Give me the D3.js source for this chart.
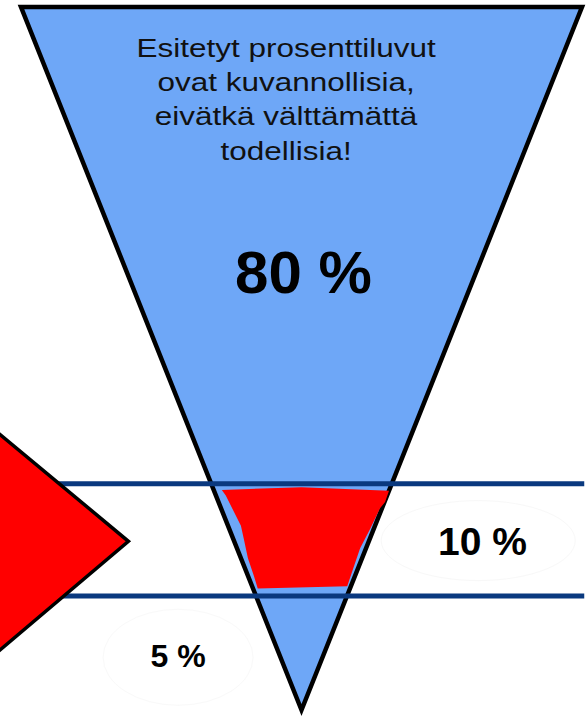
<!DOCTYPE html>
<html>
<head>
<meta charset="utf-8">
<script src="https://cdn.jsdelivr.net/npm/d3@7"></script>
<style>
  html, body { margin: 0; padding: 0; background: #fff; }
  svg { display: block; }
</style>
</head>
<body>
<div class="chart"></div>
<script>
var w = 588,
  h = 717;

// shares shown on the funnel (illustrative only)
var shareLabels = ['80 %', '10 %', '5 %'];

// note printed inside the funnel
var noteLines = ['Esitetyt prosenttiluvut', 'ovat kuvannollisia,', 'eivätkä välttämättä', 'todellisia!'];

// funnel outline: [half-width units, depth %]
var funnelCorners = [[-100, 0], [100, 0], [0, 100]];

// depth of the two filter lines
var bandLevels = [67.8, 83.8];

// hand-drawn red fill caught between the lines
var caughtFill = [
  [-28.4, 68.7], [-27.0, 69.5], [-24.1, 71.8], [-21.6, 73.8], [-20.6, 75.6],
  [-19.1, 78.4], [-17.0, 80.9], [-15.6, 82.7], [16.3, 82.4], [18.4, 79.9],
  [20.9, 77.0], [24.5, 74.2], [28.0, 71.3], [29.8, 70.4], [31.2, 68.8],
  [0, 68.3]
];

// red arrow on the left
var arrowCorners = [[-112, 59.3], [-61.7, 76.0], [-112, 93.0]];

var x = d3.scaleLinear().domain([-100, 100]).range([21, 582]);
var y = d3.scaleLinear().domain([0, 100]).range([7, 710]);

var svg = d3.select('.chart')
  .append('svg')
  .attr('width', w)
  .attr('height', h);

var line = d3.line()
  .x(function (d) { return x(d[0]); })
  .y(function (d) { return y(d[1]); })
  .curve(d3.curveLinearClosed);

// funnel
svg.append('path')
  .attr('d', line(funnelCorners))
  .attr('fill', '#6ea7f7')
  .attr('stroke', '#000')
  .attr('stroke-width', 4.5)
  .attr('stroke-linejoin', 'miter');

// red fill inside the band
svg.append('path')
  .attr('d', line(caughtFill))
  .attr('fill', '#ff0000');

// filter lines
svg.selectAll('line.band')
  .data(bandLevels)
  .enter()
  .append('line')
  .attr('class', 'band')
  .attr('x1', x(-107))
  .attr('x2', x(100.8))
  .attr('y1', function (d) { return y(d); })
  .attr('y2', function (d) { return y(d); })
  .attr('stroke', '#0a397f')
  .attr('stroke-width', 5);

// arrow
svg.append('path')
  .attr('d', line(arrowCorners))
  .attr('fill', '#ff0000')
  .attr('stroke', '#000')
  .attr('stroke-width', 3.5)
  .attr('stroke-linejoin', 'miter');

// faint label bubbles
var labelPos = [[0.7, 40.7], [64.5, 77.9], [-44, 93.9]];
var labelSize = [60, 39, 32];

svg.append('ellipse')
  .attr('cx', x(63))
  .attr('cy', y(75.9))
  .attr('rx', 97)
  .attr('ry', 40)
  .attr('fill', 'none')
  .attr('stroke', '#f8f8f8')
  .attr('stroke-width', 1);

svg.append('ellipse')
  .attr('cx', x(-44))
  .attr('cy', y(92.5))
  .attr('rx', 75)
  .attr('ry', 48)
  .attr('fill', 'none')
  .attr('stroke', '#f9f9f9')
  .attr('stroke-width', 1);

// note text (wide set)
var noteX = x(-5.5);
var note = svg.append('g')
  .attr('transform', 'translate(' + noteX + ',0) scale(1.26,1)');

note.selectAll('text')
  .data(noteLines)
  .enter()
  .append('text')
  .attr('x', 0)
  .attr('y', function (d, i) { return 57 + i * 34.2; })
  .attr('text-anchor', 'middle')
  .attr('font-family', 'Liberation Sans, Arial, sans-serif')
  .attr('font-size', '25px')
  .attr('fill', '#111')
  .text(function (d) { return d; });

// share labels
svg.selectAll('text.share')
  .data(shareLabels)
  .enter()
  .append('text')
  .attr('class', 'share')
  .attr('x', function (d, i) { return x(labelPos[i][0]); })
  .attr('y', function (d, i) { return y(labelPos[i][1]); })
  .attr('text-anchor', 'middle')
  .attr('font-family', 'Liberation Sans, Arial, sans-serif')
  .attr('font-weight', 'bold')
  .attr('font-size', function (d, i) { return labelSize[i] + 'px'; })
  .attr('fill', '#000')
  .text(function (d) { return d; });
</script>
</body>
</html>
